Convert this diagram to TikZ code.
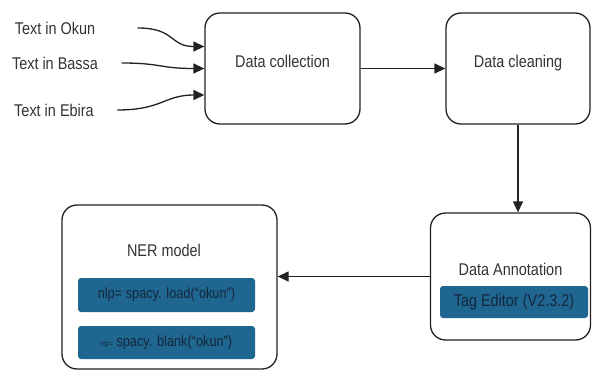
\documentclass[tikz,border=0pt]{standalone}
\usepackage{fontspec}
\setmainfont{Liberation Sans}[FakeStretch=0.85]
\usepackage{tikz}
\usetikzlibrary{arrows.meta,positioning}
\definecolor{tagblue}{HTML}{1F6690}
\definecolor{tagtext}{HTML}{14283C}
\definecolor{linegray}{HTML}{222222}

\begin{document}
\begin{tikzpicture}[x=1pt,y=-1pt,>={Triangle[length=11pt,width=10pt]}]
  \tikzstyle{stage}=[draw=linegray,line width=1.3pt,rounded corners=15pt,align=center,font=\fontsize{17}{20}\selectfont,text=black!80]
  \tikzstyle{codebox}=[fill=tagblue,rounded corners=3pt,text=tagtext,font=\fontsize{15}{18}\selectfont]
  \tikzstyle{src}=[font=\fontsize{17}{20}\selectfont,text=black!80]
  \tikzstyle{flow}=[->,draw=linegray,line width=1.3pt]
  \useasboundingbox (0,0) rectangle (592,372);

  % pipeline stages
  \node[stage,minimum width=155pt,minimum height=111pt,text depth=14pt] (collect) at (282.5,68.5) {Data collection};
  \node[stage,minimum width=144pt,minimum height=111pt,text depth=14pt] (clean) at (518,68.5) {Data cleaning};
  \node[stage,minimum width=160pt,minimum height=127pt,text depth=14pt] (annot) at (510.5,276.5) {Data Annotation};
  \node[codebox,minimum width=148pt,minimum height=32pt,font=\fontsize{17}{20}\selectfont] (tag) at (514,302) {Tag Editor (V2.3.2)};
  \node[stage,minimum width=215pt,minimum height=164pt] (ner) at (169.5,287) {};
  \node[src] (nertitle) at (164,250) {NER model};
  \node[codebox,minimum width=177pt,minimum height=34pt] (load) at (166.5,295) {nlp= spacy. load(“okun”)};
  \node[codebox,minimum width=177pt,minimum height=33pt] (blank) at (166.5,342.5) {{\fontsize{7.5}{9}\selectfont nlp=} spacy. blank(“okun”)};

  % input languages
  \node[src] (okun) at (55,28) {Text in Okun};
  \node[src] (bassa) at (55,63) {Text in Bassa};
  \node[src] (ebira) at (54,110) {Text in Ebira};

  \draw[flow] ([xshift=39pt]okun.east) .. controls +(38,0) and +(-35,0) .. ([yshift=22pt]collect.west);
  \draw[flow] ([xshift=20pt]bassa.east) .. controls +(40,0) and +(-45,0) .. (collect.west);
  \draw[flow] ([xshift=20pt]ebira.east) .. controls +(45,0) and +(-40,0) .. ([yshift=-26.5pt]collect.west);
  \draw[flow] (collect) -- (clean);
  \draw[flow] (clean.south) -- (clean.south |- annot.north);
  \draw[flow] (annot.west) -- (annot.west -| ner.east);
\end{tikzpicture}
\end{document}
